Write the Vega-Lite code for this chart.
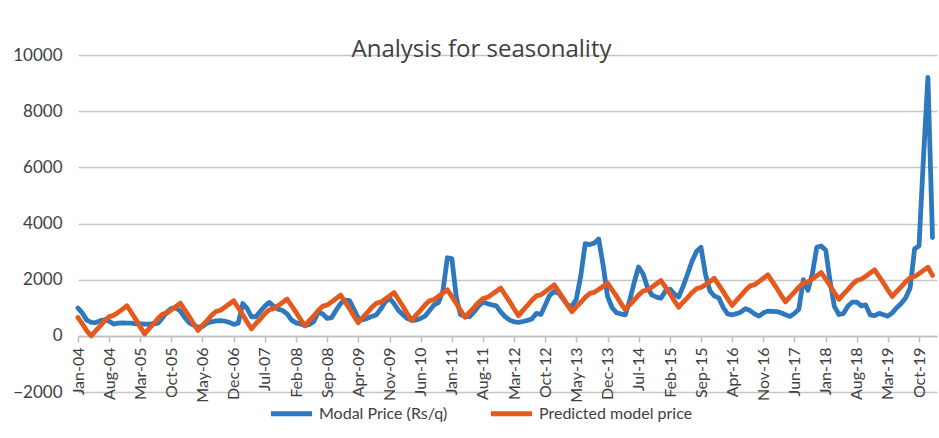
{
  "$schema": "https://vega.github.io/schema/vega-lite/v6.json",
  "width": 859,
  "height": 337,
  "autosize": {"type": "none"},
  "padding": {"left": 78, "top": 55, "right": 2, "bottom": 46},
  "background": "white",
  "config": {
    "font": "Lato",
    "view": {"stroke": null},
    "axis": {"labelFont": "Lato", "labelColor": "#404040", "labelFontSize": 16}
  },
  "title": {
    "text": "Analysis for seasonality",
    "font": "Open Sans",
    "fontSize": 24,
    "fontWeight": "normal",
    "color": "#404040",
    "anchor": "middle",
    "dx": -26,
    "baseline": "alphabetic",
    "offset": -35
  },
  "data": {
    "values": [
      {"m":"2004-01-01","modal":990,"predicted":650},{"m":"2004-02-01","modal":800,"predicted":420},{"m":"2004-03-01","modal":560,"predicted":180},{"m":"2004-04-01","modal":480,"predicted":0},{"m":"2004-05-01","modal":470,"predicted":180},{"m":"2004-06-01","modal":540,"predicted":355},{"m":"2004-07-01","modal":570,"predicted":535},{"m":"2004-08-01","modal":520,"predicted":685},{"m":"2004-09-01","modal":420,"predicted":730},{"m":"2004-10-01","modal":450,"predicted":835},{"m":"2004-11-01","modal":460,"predicted":950},{"m":"2004-12-01","modal":450,"predicted":1070},
      {"m":"2005-01-01","modal":450,"predicted":820},{"m":"2005-02-01","modal":430,"predicted":570},{"m":"2005-03-01","modal":430,"predicted":320},{"m":"2005-04-01","modal":420,"predicted":70},{"m":"2005-05-01","modal":420,"predicted":256},{"m":"2005-06-01","modal":430,"predicted":431},{"m":"2005-07-01","modal":450,"predicted":617},{"m":"2005-08-01","modal":640,"predicted":771},{"m":"2005-09-01","modal":850,"predicted":815},{"m":"2005-10-01","modal":980,"predicted":924},{"m":"2005-11-01","modal":1000,"predicted":1045},{"m":"2005-12-01","modal":880,"predicted":1165},
      {"m":"2006-01-01","modal":650,"predicted":921},{"m":"2006-02-01","modal":460,"predicted":677},{"m":"2006-03-01","modal":380,"predicted":434},{"m":"2006-04-01","modal":310,"predicted":190},{"m":"2006-05-01","modal":330,"predicted":370},{"m":"2006-06-01","modal":450,"predicted":540},{"m":"2006-07-01","modal":500,"predicted":720},{"m":"2006-08-01","modal":530,"predicted":868},{"m":"2006-09-01","modal":540,"predicted":911},{"m":"2006-10-01","modal":520,"predicted":1017},{"m":"2006-11-01","modal":480,"predicted":1133},{"m":"2006-12-01","modal":410,"predicted":1250},
      {"m":"2007-01-01","modal":450,"predicted":1000},{"m":"2007-02-01","modal":1150,"predicted":750},{"m":"2007-03-01","modal":990,"predicted":500},{"m":"2007-04-01","modal":680,"predicted":250},{"m":"2007-05-01","modal":680,"predicted":430},{"m":"2007-06-01","modal":870,"predicted":600},{"m":"2007-07-01","modal":1050,"predicted":780},{"m":"2007-08-01","modal":1190,"predicted":928},{"m":"2007-09-01","modal":1050,"predicted":971},{"m":"2007-10-01","modal":950,"predicted":1077},{"m":"2007-11-01","modal":900,"predicted":1193},{"m":"2007-12-01","modal":780,"predicted":1310},
      {"m":"2008-01-01","modal":560,"predicted":1071},{"m":"2008-02-01","modal":460,"predicted":833},{"m":"2008-03-01","modal":420,"predicted":594},{"m":"2008-04-01","modal":370,"predicted":356},{"m":"2008-05-01","modal":400,"predicted":542},{"m":"2008-06-01","modal":510,"predicted":717},{"m":"2008-07-01","modal":850,"predicted":903},{"m":"2008-08-01","modal":780,"predicted":1056},{"m":"2008-09-01","modal":620,"predicted":1100},{"m":"2008-10-01","modal":650,"predicted":1209},{"m":"2008-11-01","modal":920,"predicted":1330},{"m":"2008-12-01","modal":1150,"predicted":1450},
      {"m":"2009-01-01","modal":1270,"predicted":1205},{"m":"2009-02-01","modal":1250,"predicted":960},{"m":"2009-03-01","modal":950,"predicted":715},{"m":"2009-04-01","modal":620,"predicted":470},{"m":"2009-05-01","modal":570,"predicted":652},{"m":"2009-06-01","modal":620,"predicted":823},{"m":"2009-07-01","modal":690,"predicted":1005},{"m":"2009-08-01","modal":740,"predicted":1155},{"m":"2009-09-01","modal":950,"predicted":1198},{"m":"2009-10-01","modal":1200,"predicted":1305},{"m":"2009-11-01","modal":1340,"predicted":1422},{"m":"2009-12-01","modal":1150,"predicted":1540},
      {"m":"2010-01-01","modal":900,"predicted":1293},{"m":"2010-02-01","modal":750,"predicted":1045},{"m":"2010-03-01","modal":620,"predicted":798},{"m":"2010-04-01","modal":550,"predicted":550},{"m":"2010-05-01","modal":560,"predicted":735},{"m":"2010-06-01","modal":620,"predicted":910},{"m":"2010-07-01","modal":700,"predicted":1095},{"m":"2010-08-01","modal":900,"predicted":1248},{"m":"2010-09-01","modal":1100,"predicted":1291},{"m":"2010-10-01","modal":1180,"predicted":1400},{"m":"2010-11-01","modal":1600,"predicted":1520},{"m":"2010-12-01","modal":2780,"predicted":1640},
      {"m":"2011-01-01","modal":2750,"predicted":1395},{"m":"2011-02-01","modal":1350,"predicted":1150},{"m":"2011-03-01","modal":750,"predicted":905},{"m":"2011-04-01","modal":700,"predicted":660},{"m":"2011-05-01","modal":680,"predicted":837},{"m":"2011-06-01","modal":850,"predicted":1003},{"m":"2011-07-01","modal":1050,"predicted":1180},{"m":"2011-08-01","modal":1200,"predicted":1326},{"m":"2011-09-01","modal":1150,"predicted":1367},{"m":"2011-10-01","modal":1100,"predicted":1471},{"m":"2011-11-01","modal":1070,"predicted":1586},{"m":"2011-12-01","modal":850,"predicted":1700},
      {"m":"2012-01-01","modal":680,"predicted":1455},{"m":"2012-02-01","modal":560,"predicted":1210},{"m":"2012-03-01","modal":500,"predicted":965},{"m":"2012-04-01","modal":480,"predicted":720},{"m":"2012-05-01","modal":510,"predicted":906},{"m":"2012-06-01","modal":550,"predicted":1081},{"m":"2012-07-01","modal":600,"predicted":1268},{"m":"2012-08-01","modal":800,"predicted":1421},{"m":"2012-09-01","modal":760,"predicted":1465},{"m":"2012-10-01","modal":1100,"predicted":1574},{"m":"2012-11-01","modal":1450,"predicted":1695},{"m":"2012-12-01","modal":1580,"predicted":1815},
      {"m":"2013-01-01","modal":1520,"predicted":1576},{"m":"2013-02-01","modal":1300,"predicted":1338},{"m":"2013-03-01","modal":1100,"predicted":1099},{"m":"2013-04-01","modal":1050,"predicted":860},{"m":"2013-05-01","modal":1300,"predicted":1033},{"m":"2013-06-01","modal":2150,"predicted":1195},{"m":"2013-07-01","modal":3280,"predicted":1368},{"m":"2013-08-01","modal":3250,"predicted":1510},{"m":"2013-09-01","modal":3300,"predicted":1550},{"m":"2013-10-01","modal":3450,"predicted":1652},{"m":"2013-11-01","modal":2500,"predicted":1763},{"m":"2013-12-01","modal":1400,"predicted":1875},
      {"m":"2014-01-01","modal":1000,"predicted":1639},{"m":"2014-02-01","modal":820,"predicted":1403},{"m":"2014-03-01","modal":780,"predicted":1166},{"m":"2014-04-01","modal":750,"predicted":930},{"m":"2014-05-01","modal":1250,"predicted":1107},{"m":"2014-06-01","modal":1900,"predicted":1273},{"m":"2014-07-01","modal":2450,"predicted":1450},{"m":"2014-08-01","modal":2200,"predicted":1596},{"m":"2014-09-01","modal":1700,"predicted":1637},{"m":"2014-10-01","modal":1450,"predicted":1741},{"m":"2014-11-01","modal":1380,"predicted":1856},{"m":"2014-12-01","modal":1340,"predicted":1970},
      {"m":"2015-01-01","modal":1600,"predicted":1733},{"m":"2015-02-01","modal":1660,"predicted":1495},{"m":"2015-03-01","modal":1500,"predicted":1258},{"m":"2015-04-01","modal":1380,"predicted":1020},{"m":"2015-05-01","modal":1750,"predicted":1195},{"m":"2015-06-01","modal":2200,"predicted":1360},{"m":"2015-07-01","modal":2650,"predicted":1535},{"m":"2015-08-01","modal":3000,"predicted":1679},{"m":"2015-09-01","modal":3150,"predicted":1720},{"m":"2015-10-01","modal":2200,"predicted":1823},{"m":"2015-11-01","modal":1600,"predicted":1937},{"m":"2015-12-01","modal":1420,"predicted":2050},
      {"m":"2016-01-01","modal":1350,"predicted":1808},{"m":"2016-02-01","modal":1000,"predicted":1565},{"m":"2016-03-01","modal":780,"predicted":1323},{"m":"2016-04-01","modal":750,"predicted":1080},{"m":"2016-05-01","modal":790,"predicted":1265},{"m":"2016-06-01","modal":850,"predicted":1440},{"m":"2016-07-01","modal":970,"predicted":1625},{"m":"2016-08-01","modal":900,"predicted":1778},{"m":"2016-09-01","modal":780,"predicted":1821},{"m":"2016-10-01","modal":700,"predicted":1930},{"m":"2016-11-01","modal":820,"predicted":2050},{"m":"2016-12-01","modal":880,"predicted":2170},
      {"m":"2017-01-01","modal":870,"predicted":1930},{"m":"2017-02-01","modal":860,"predicted":1690},{"m":"2017-03-01","modal":820,"predicted":1450},{"m":"2017-04-01","modal":750,"predicted":1210},{"m":"2017-05-01","modal":690,"predicted":1388},{"m":"2017-06-01","modal":800,"predicted":1555},{"m":"2017-07-01","modal":950,"predicted":1733},{"m":"2017-08-01","modal":2000,"predicted":1879},{"m":"2017-09-01","modal":1620,"predicted":1921},{"m":"2017-10-01","modal":2200,"predicted":2025},{"m":"2017-11-01","modal":3150,"predicted":2140},{"m":"2017-12-01","modal":3200,"predicted":2255},
      {"m":"2018-01-01","modal":3050,"predicted":2016},{"m":"2018-02-01","modal":1900,"predicted":1778},{"m":"2018-03-01","modal":1050,"predicted":1539},{"m":"2018-04-01","modal":760,"predicted":1300},{"m":"2018-05-01","modal":790,"predicted":1479},{"m":"2018-06-01","modal":1050,"predicted":1647},{"m":"2018-07-01","modal":1200,"predicted":1825},{"m":"2018-08-01","modal":1200,"predicted":1972},{"m":"2018-09-01","modal":1070,"predicted":2014},{"m":"2018-10-01","modal":1100,"predicted":2119},{"m":"2018-11-01","modal":750,"predicted":2235},{"m":"2018-12-01","modal":720,"predicted":2350},
      {"m":"2019-01-01","modal":800,"predicted":2113},{"m":"2019-02-01","modal":750,"predicted":1875},{"m":"2019-03-01","modal":700,"predicted":1638},{"m":"2019-04-01","modal":820,"predicted":1400},{"m":"2019-05-01","modal":1000,"predicted":1578},{"m":"2019-06-01","modal":1150,"predicted":1745},{"m":"2019-07-01","modal":1350,"predicted":1923},{"m":"2019-08-01","modal":1700,"predicted":2069},{"m":"2019-09-01","modal":3100,"predicted":2111},{"m":"2019-10-01","modal":3200,"predicted":2215},{"m":"2019-11-01","modal":6400,"predicted":2330},{"m":"2019-12-01","modal":9200,"predicted":2445},
      {"m":"2020-01-01","modal":3500,"predicted":2150}
    ]
  },
  "transform": [{"fold": ["modal", "predicted"], "as": ["series", "value"]}],
  "mark": {"type": "line", "strokeWidth": 4.8, "strokeJoin": "round", "strokeCap": "round"},
  "encoding": {
    "x": {
      "field": "m",
      "type": "temporal",
      "scale": {
        "type": "utc",
        "domain": [{"year": 2004, "month": 1, "date": 1, "utc": true}, {"year": 2020, "month": 2, "date": 1, "utc": true}]
      },
      "axis": {
        "title": null,
        "offset": -56,
        "grid": false,
        "labelExpr": "utcFormat(datum.value, '%b-%y')",
        "labelAngle": -90,
        "labelPadding": 5,
        "tickSize": 6,
        "tickColor": "#BFBFBF",
        "tickWidth": 1.5,
        "domainColor": "#BFBFBF",
        "domainWidth": 1.5,
        "labelOverlap": false,
        "values": [
          {"year": 2004, "month": 1, "date": 1, "utc": true},
          {"year": 2004, "month": 8, "date": 1, "utc": true},
          {"year": 2005, "month": 3, "date": 1, "utc": true},
          {"year": 2005, "month": 10, "date": 1, "utc": true},
          {"year": 2006, "month": 5, "date": 1, "utc": true},
          {"year": 2006, "month": 12, "date": 1, "utc": true},
          {"year": 2007, "month": 7, "date": 1, "utc": true},
          {"year": 2008, "month": 2, "date": 1, "utc": true},
          {"year": 2008, "month": 9, "date": 1, "utc": true},
          {"year": 2009, "month": 4, "date": 1, "utc": true},
          {"year": 2009, "month": 11, "date": 1, "utc": true},
          {"year": 2010, "month": 6, "date": 1, "utc": true},
          {"year": 2011, "month": 1, "date": 1, "utc": true},
          {"year": 2011, "month": 8, "date": 1, "utc": true},
          {"year": 2012, "month": 3, "date": 1, "utc": true},
          {"year": 2012, "month": 10, "date": 1, "utc": true},
          {"year": 2013, "month": 5, "date": 1, "utc": true},
          {"year": 2013, "month": 12, "date": 1, "utc": true},
          {"year": 2014, "month": 7, "date": 1, "utc": true},
          {"year": 2015, "month": 2, "date": 1, "utc": true},
          {"year": 2015, "month": 9, "date": 1, "utc": true},
          {"year": 2016, "month": 4, "date": 1, "utc": true},
          {"year": 2016, "month": 11, "date": 1, "utc": true},
          {"year": 2017, "month": 6, "date": 1, "utc": true},
          {"year": 2018, "month": 1, "date": 1, "utc": true},
          {"year": 2018, "month": 8, "date": 1, "utc": true},
          {"year": 2019, "month": 3, "date": 1, "utc": true},
          {"year": 2019, "month": 10, "date": 1, "utc": true}
        ]
      }
    },
    "y": {
      "field": "value",
      "type": "quantitative",
      "scale": {"domain": [-2000, 10000], "nice": false, "zero": false},
      "axis": {
        "title": null,
        "format": "d",
        "values": [-2000, 0, 2000, 4000, 6000, 8000, 10000],
        "domain": false,
        "ticks": false,
        "labelPadding": 16,
        "labelFontSize": 17,
        "gridColor": "#C6C6C6",
        "gridWidth": 1.5
      }
    },
    "color": {
      "field": "series",
      "type": "nominal",
      "scale": {"domain": ["modal", "predicted"], "range": ["#2E78BE", "#E5581E"]},
      "legend": {
        "title": null,
        "orient": "none",
        "direction": "horizontal",
        "legendX": 190,
        "legendY": 335,
        "symbolType": "stroke",
        "symbolSize": 1700,
        "symbolStrokeWidth": 5,
        "labelFontSize": 16,
        "labelColor": "#404040",
        "labelFont": "Lato",
        "labelOffset": 4,
        "columnPadding": 32,
        "labelExpr": "datum.label == 'modal' ? 'Modal Price (Rs/q)' : 'Predicted model price'"
      }
    }
  }
}
